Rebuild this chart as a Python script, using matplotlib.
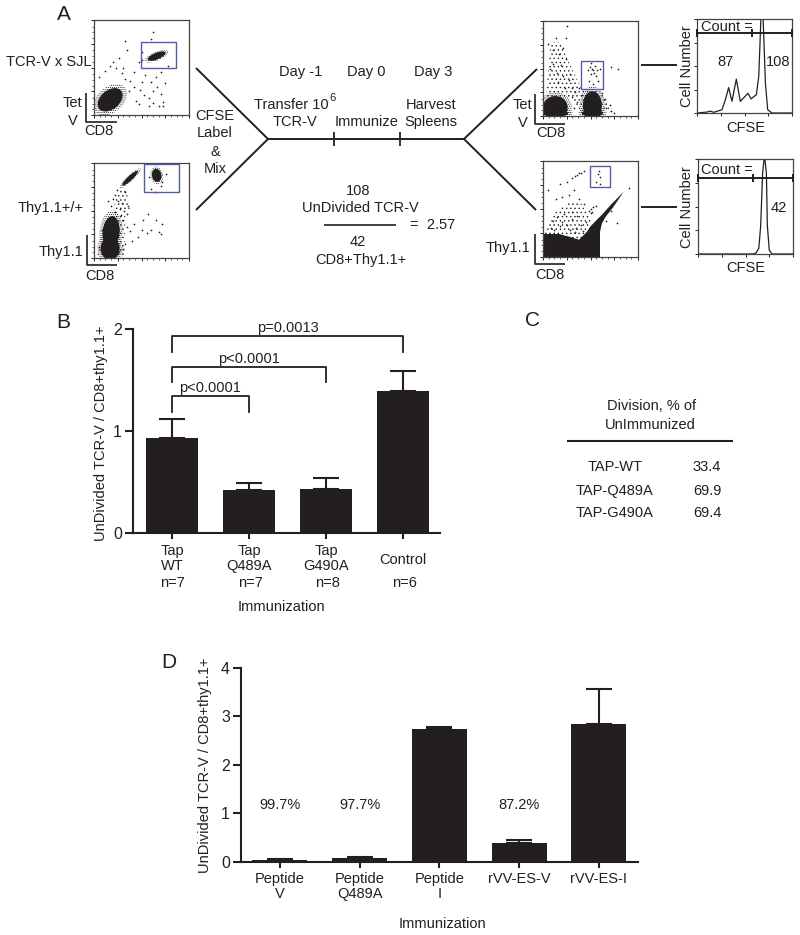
import matplotlib
matplotlib.use("Agg")
import matplotlib.pyplot as plt
from matplotlib.patches import Ellipse, Polygon, Rectangle

plt.rcParams['font.family'] = ['Liberation Sans', 'DejaVu Sans']
plt.rcParams['font.size'] = 10.5
plt.rcParams['hatch.linewidth'] = 0.5

DARK = '#231f20'
GATE = '#4f5da8'
W, H = 800, 935

# Panel B
tap_labels = ["Tap\nWT", "Tap\nQ489A", "Tap\nG490A", "Control"]
tap_n = ["n=7", "n=7", "n=8", "n=6"]
tap_means = [0.93, 0.42, 0.43, 1.39]
tap_err = [0.19, 0.07, 0.11, 0.20]
brackets = [(0, 1, 1.345, 1.19, "p<0.0001"),
            (0, 2, 1.63, 1.48, "p<0.0001"),
            (0, 3, 1.93, 1.77, "p=0.0013")]

# Panel C
division_names = ["TAP-WT", "TAP-Q489A", "TAP-G490A"]
division_vals = ["33.4", "69.9", "69.4"]

# Panel D
pep_labels = ["Peptide\nV", "Peptide\nQ489A", "Peptide\nI", "rVV-ES-V", "rVV-ES-I"]
pep_means = [0.04, 0.07, 2.75, 0.39, 2.85]
pep_err = [0.02, 0.02, 0.04, 0.05, 0.71]
pep_pct = ["99.7%", "97.7%", None, "87.2%", None]

# Histograms (CFSE position, cell number), percent of the box
hist1_x = [0, 10.5, 14, 17.5, 26.3, 29.8, 33.3, 36.8, 41.4, 45.6, 49, 53.7, 56.8, 62.5, 65, 67.4, 69.5, 72, 74.4, 79, 100]
hist1_y = [0, 1, 2, 0.7, 3.5, 14, 27, 12.4, 36, 12.4, 16, 21, 15, 19.5, 39, 104, 104, 32, 3.5, 0, 0]
hist2_x = [0, 58, 61, 64, 66, 68, 70, 72, 73, 75, 78, 100]
hist2_y = [0, 0, 1, 6, 30, 85, 104, 85, 30, 4, 0, 0]

# Flow plots: dense clouds (x, y, width, height, angle), percent of the box
clouds_p1 = [(17, 16, 30, 20, 40), (66, 62, 20, 7, 22)]
haze_p1 = [(2, 3, 36, 3), (42, 6, 46, 24), (36, 42, 14, 46), (5, 34, 3, 10)]
dots_p1 = [(5, 40), (12, 46), (17, 52), (23, 49), (29, 44), (33, 38), (38, 36), (42, 30), (48, 26), (53, 21),
           (58, 18), (62, 25), (66, 30), (70, 22), (75, 34), (73, 14), (68, 10), (58, 9), (50, 35), (44, 15),
           (30, 50), (20, 56), (37, 25), (47, 12), (60, 35), (35, 68), (50, 58), (47, 56), (62, 13), (73, 10),
           (65, 40), (70, 45), (78, 52), (60, 80), (62, 87), (33, 78), (51, 66), (42, 45), (54, 42), (26, 60)]
clouds_p2 = [(18, 27, 18, 34, -5), (17, 10, 20, 24, 0), (66, 87, 10, 14, 10), (38, 84, 22, 5, 43)]
haze_p2 = [(3, 1, 32, 1, 33, 46, 18, 46), (20, 50, 38, 50, 34, 72, 26, 72)]
dots_p2 = [(22, 66), (25, 60), (18, 55), (29, 58), (27, 52), (32, 50), (35, 46), (22, 48), (28, 45), (36, 55),
           (30, 40), (35, 33), (38, 28), (40, 18), (33, 15), (42, 36), (52, 40), (57, 46), (60, 30), (65, 40),
           (50, 30), (70, 25), (72, 36), (56, 26), (68, 27), (46, 22), (24, 72), (20, 62), (15, 60), (70, 76),
           (60, 73), (72, 80), (58, 85), (76, 88), (64, 70), (5, 12), (8, 30), (26, 6), (30, 10), (33, 70)]
clouds_p3 = [(13, 9, 26, 24, 0), (52, 11, 20, 30, 0), (13, 3, 27, 8, 0), (52, 3, 22, 8, 0)]
haze_p3 = [(3, 20, 30, 20, 40, 4, 75, 4, 62, 25, 40, 30, 28, 55, 18, 78, 8, 78)]
dots_p3 = [(5, 76), (10, 70), (14, 82), (17, 65), (21, 72), (19, 54), (11, 55), (7, 50), (24, 60), (15, 45),
           (21, 42), (27, 38), (30, 30), (34, 25), (36, 15), (30, 20), (28, 44), (38, 30), (41, 22), (33, 8),
           (65, 18), (70, 12), (66, 8), (72, 5), (75, 3), (62, 24), (24, 82), (49, 52), (53, 48), (55, 53),
           (51, 44), (56, 42), (48, 37), (53, 34), (58, 37), (50, 56), (54, 45), (47, 48), (52, 50), (57, 48),
           (60, 50), (72, 52), (79, 50), (25, 95), (16, 36), (23, 30)]
blob_p4 = [(0, 24), (17, 24), (28, 21), (38, 18), (46, 26), (50, 32), (56, 38), (62, 44), (72, 55), (85, 68), (74, 52),
           (66, 42), (62, 35), (60, 26), (60, 0), (0, 0)]
haze_p4 = [(1, 24, 40, 18, 52, 36, 40, 56, 28, 58, 12, 46)]
dots_p4 = [(36, 85), (38, 87), (40, 88), (34, 84), (43, 90), (30, 82), (25, 78), (18, 76), (14, 60), (20, 62),
           (27, 65), (33, 70), (38, 60), (43, 55), (50, 50), (52, 47), (53, 52), (50, 46), (48, 48), (56, 53),
           (10, 38), (15, 42), (20, 36), (25, 33), (30, 40), (35, 30), (40, 33), (8, 30), (42, 27), (45, 36),
           (22, 45), (30, 47), (36, 43), (60, 83), (58, 86), (59, 90), (56, 78), (60, 76), (5, 70), (90, 72),
           (78, 35), (72, 48), (66, 37), (12, 28), (28, 28), (55, 30), (18, 32), (34, 26)]
gates = [(49, 49, 37, 28), (53, 70, 36.5, 29), (40, 28, 23, 30), (49, 73, 21, 22)]
boxes = [(94, 20, 189, 115), (94, 163, 189, 258), (543, 21, 638, 116), (543, 161, 638, 257)]
flow = [(clouds_p1, None, dots_p1, haze_p1), (clouds_p2, None, dots_p2, haze_p2),
        (clouds_p3, None, dots_p3, haze_p3), ([], blob_p4, dots_p4, haze_p4)]


def axes_px(fig, l, t, r, b):
    return fig.add_axes([l / W, 1 - b / H, (r - l) / W, (b - t) / H])


fig = plt.figure(figsize=(8, 9.35), dpi=100)

# overlay in pixels for the schematic
ov = fig.add_axes([0, 0, 1, 1], zorder=5)
ov.set_xlim(0, W)
ov.set_ylim(H, 0)
ov.axis('off')
ov.patch.set_alpha(0)


def line(xs, ys, lw=1.3):
    ov.plot(xs, ys, color=DARK, lw=lw, solid_capstyle='butt')


def txt(x, y, s, ha='center', size=10.5, **kw):
    ov.text(x, y, s, ha=ha, va='center', fontsize=size, color=DARK, **kw)


# flow plots
for box, gate, (clouds, blob, dots, haze) in zip(boxes, gates, flow):
    ax = axes_px(fig, *box)
    ax.set_xlim(0, 100)
    ax.set_ylim(0, 100)
    for h in haze:
        pts = list(zip(h[0::2], h[1::2]))
        ax.add_patch(Polygon(pts, closed=True, fill=False, ec=DARK, hatch='....', lw=0))
    for cx, cy, w, h, ang in clouds:
        ax.add_patch(Ellipse((cx, cy), w * 1.35, h * 1.35, angle=ang, fill=False, ec=DARK, hatch='........', lw=0))
        ax.add_patch(Ellipse((cx, cy), w, h, angle=ang, color=DARK, lw=0))
    if blob:
        ax.add_patch(Polygon(blob, closed=True, color=DARK, lw=0))
    ax.scatter([d[0] for d in dots], [d[1] for d in dots], s=1.5, color=DARK, lw=0)
    ax.add_patch(Rectangle(gate[:2], gate[2], gate[3], fill=False, ec=GATE, lw=1.0, zorder=4))
    ax.set_xticks([0, 25, 50, 75, 100], [])
    ax.set_yticks([0, 25, 50, 75, 100], [])
    ax.set_xticks([6, 12, 18, 31, 37, 43, 56, 62, 68, 81, 87, 93], minor=True)
    ax.set_yticks([6, 12, 18, 31, 37, 43, 56, 62, 68, 81, 87, 93], minor=True)
    ax.tick_params(which='major', length=2.2, width=0.7, color=DARK)
    ax.tick_params(which='minor', length=1.2, width=0.5, color=DARK)
    for sp in ax.spines.values():
        sp.set_linewidth(0.9)
        sp.set_color('#444444')

# histograms
hists = [((697, 19, 792, 113), hist1_x, hist1_y, 85), ((698, 159, 793, 254), hist2_x, hist2_y, 80)]
for box, hx, hy, gy in hists:
    ax = axes_px(fig, *box)
    ax.plot(hx, hy, color=DARK, lw=0.9)
    ax.set_xlim(0, 100)
    ax.set_ylim(0, 100)
    ax.plot([0, 100], [gy, gy], color=DARK, lw=1.4, clip_on=False, zorder=4)
    for tx in (0, 58, 100):
        ax.plot([tx, tx], [gy - 3, gy + 3], color=DARK, lw=1.4, clip_on=False, zorder=4)
    ax.set_xticks([0, 25, 50, 75, 100], [])
    ax.set_yticks([0, 25, 50, 75, 100], [])
    ax.tick_params(length=2, width=0.7, color=DARK)
    for sp in ax.spines.values():
        sp.set_linewidth(0.9)
        sp.set_color('#444444')

# L shaped axis marks next to the flow plots
for x0, y0, y1, x1 in [(86, 93, 122, 117), (86.5, 235, 265, 117), (535, 94, 123.5, 565), (535, 234, 264, 565)]:
    line([x0, x0, x1], [y0, y1, y1], lw=1.2)

# schematic lines
line([196, 268, 196], [68, 139, 210], lw=1.4)
line([268, 464], [139, 139], lw=1.4)
line([537, 464, 536], [69, 139, 210], lw=1.4)
line([334, 334], [132, 146], lw=1.3)
line([400, 400], [132, 146], lw=1.3)
line([641, 677], [65, 65], lw=1.4)
line([641, 677], [207, 207], lw=1.4)
line([324, 396], [225, 225], lw=1.2)

# panel A text
for x, y, s in [(99, 131, "CD8"), (100, 276, "CD8"), (551, 133, "CD8"), (550, 275, "CD8"),
                (72, 103, "Tet"), (73, 121, "V"), (522, 105, "Tet"), (523, 123, "V"),
                (215, 116, "CFSE"), (215, 133, "Label"), (215, 152, "&"), (215, 169, "Mix"),
                (301, 72, "Day -1"), (366, 72, "Day 0"), (433, 72, "Day 3"),
                (291, 105, "Transfer 10"), (295, 122, "TCR-V"), (367, 122, "Immunize"),
                (431, 105, "Harvest"), (431, 122, "Spleens"),
                (358, 191, "108"), (360, 208, "UnDivided TCR-V"), (358, 242, "42"), (361, 260, "CD8+Thy1.1+"),
                (746, 128, "CFSE"), (746, 268, "CFSE"),
                (726, 62, "87"), (778, 62, "108"), (779, 208, "42")]:
    txt(x, y, s)
txt(332, 98, "6", size=8)
txt(91, 62, "TCR-V x SJL", ha='right')
txt(84, 208, "Thy1.1+/+", ha='right')
txt(83, 252, "Thy1.1", ha='right')
txt(530, 248, "Thy1.1", ha='right')
txt(410, 225, "=  2.57", ha='left')
txt(701, 27, "Count =", ha='left')
txt(701, 170, "Count =", ha='left')
txt(687, 66, "Cell Number", rotation=90)
txt(687, 207, "Cell Number", rotation=90)

# panel letters
for x, y, s in [(64, 14, "A"), (63, 322, "B"), (533, 321, "C"), (169, 662, "D")]:
    txt(x, y, s, size=15)

# panel C
txt(652, 406, "Division, % of")
txt(650, 425, "UnImmunized")
line([567, 733], [441, 441], lw=1.5)
for y, name, val in zip([467, 491, 513], division_names, division_vals):
    txt(615, y, name)
    txt(707, y, val)


def bar_axes(box, xlim, ylim, yticks, means, errs, width, ylabel_xy, xlabel_xy):
    ax = axes_px(fig, *box)
    xs = list(range(len(means)))
    ax.bar(xs, means, width=width, color=DARK, edgecolor=DARK, lw=0)
    ax.errorbar(xs, means, yerr=[[0] * len(errs), errs], fmt='none', ecolor=DARK,
                elinewidth=1.5, capsize=9.5, capthick=1.5)
    ax.set_xlim(*xlim)
    ax.set_ylim(*ylim)
    ax.set_yticks(yticks)
    ax.spines[['top', 'right']].set_visible(False)
    ax.spines[['left', 'bottom']].set_linewidth(1.5)
    ax.spines[['left', 'bottom']].set_color(DARK)
    ax.patch.set_alpha(0)
    ax.tick_params(axis='y', length=6, width=1.5, color=DARK, labelcolor=DARK, labelsize=11.5, pad=2)
    ax.tick_params(axis='x', length=4, width=1.5, color=DARK, labelcolor=DARK, labelsize=10.5, pad=3.5)
    txt(ylabel_xy[0], ylabel_xy[1], "UnDivided TCR-V / CD8+thy1.1+", rotation=90)
    txt(xlabel_xy[0], xlabel_xy[1], "Immunization")
    return ax, xs


# panel B
axb, xb = bar_axes((133, 329, 440, 533.3), (-0.506, 3.48), (0, 2), [0, 1, 2],
                   tap_means, tap_err, 0.68, (101, 433), (281, 607))
axb.set_xticks(xb, tap_labels, linespacing=1.1)
axb.xaxis.get_major_ticks()[3].set_pad(10)
for x, s in zip(xb, tap_n):
    axb.annotate(s, (x, 0), xycoords=('data', 'axes fraction'), xytext=(1, -50), textcoords='offset pixels',
                 ha='center', va='center', color=DARK, fontsize=10.5)
for x0, x1, top, drop, label in brackets:
    axb.plot([x0, x0, x1, x1], [drop, top, top, drop], color=DARK, lw=1.3, clip_on=False)
    axb.text((x0 + x1) / 2, top + 0.01, label, ha='center', va='bottom', color=DARK, fontsize=10.5)

# panel D
axd, xd = bar_axes((241, 668, 638, 861.7), (-0.489, 4.49), (0, 4), [0, 1, 2, 3, 4],
                   pep_means, pep_err, 0.69, (205, 765), (442, 924))
axd.set_xticks(xd, pep_labels, linespacing=1.1)
for x, s in zip(xd, pep_pct):
    if s:
        axd.text(x, 1.17, s, ha='center', va='center', color=DARK, fontsize=10.5)

fig.savefig("out.png", dpi=100)
